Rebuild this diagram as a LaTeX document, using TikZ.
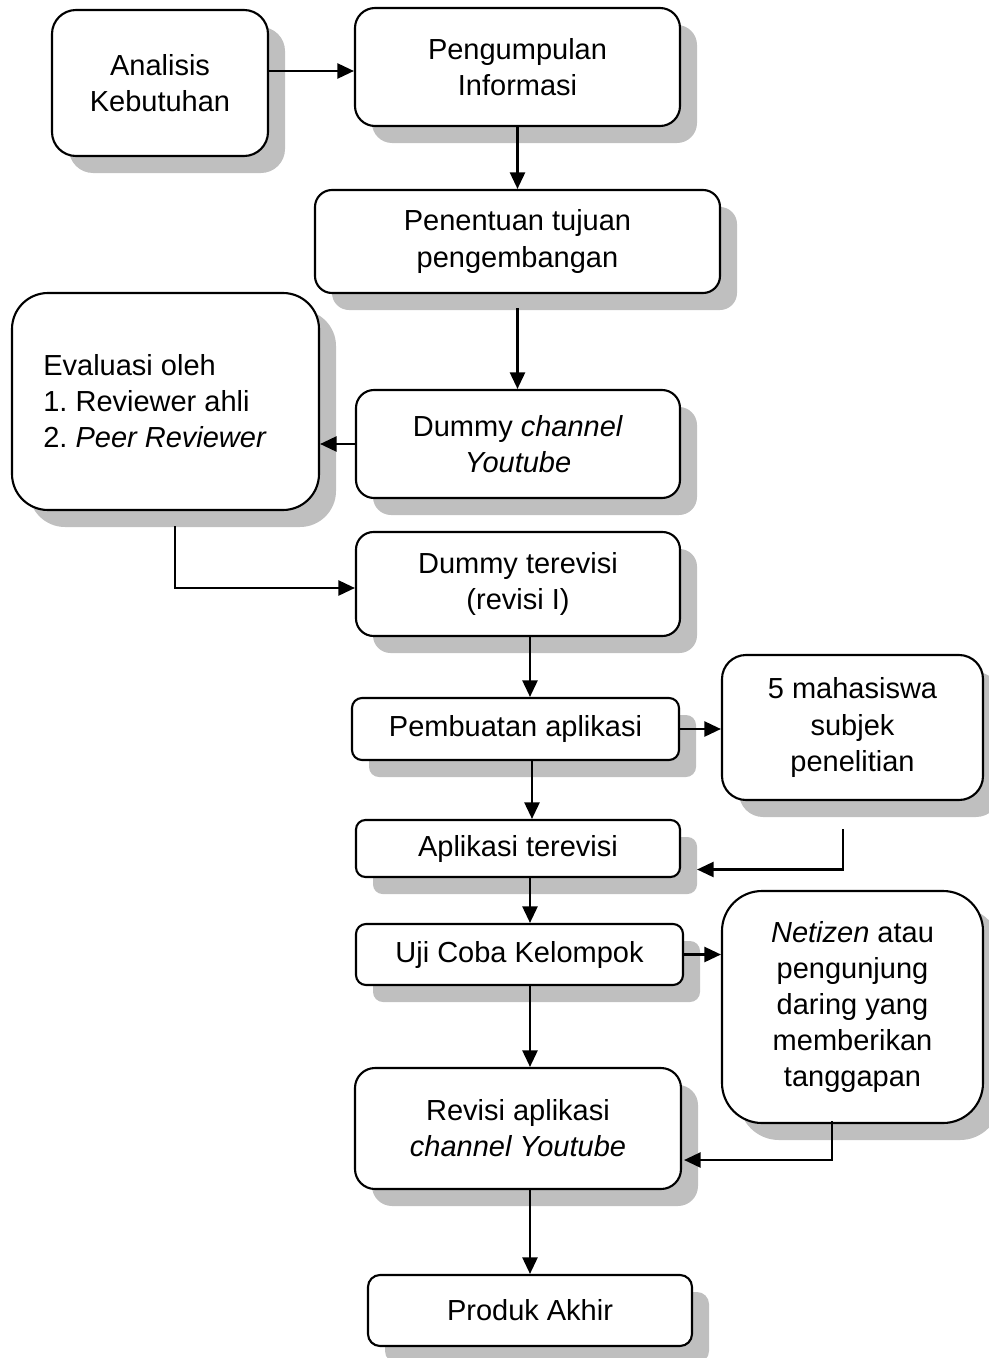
\documentclass[tikz,border=0pt]{standalone}
\usepackage{fontspec}
\setmainfont{Liberation Sans}
\frenchspacing
\usetikzlibrary{positioning}
\usetikzlibrary{arrows.meta, shadows}

\begin{document}
\begin{tikzpicture}[flowbox/.style={rectangle,
          draw,
          line width=1.2pt,
          fill=white,
          align=center,
          inner sep=0pt,
          font=\fontsize{16.5}{20.5}\selectfont,
          general shadow={shadow xshift=0.34cm, shadow yshift=-0.34cm, fill=black!25}},
   flowarrow/.style={line width=1.3pt, -{Triangle[length=0.33cm, width=0.3cm]}}]
   \useasboundingbox (0,0) rectangle (19.78,-27.16);

   \node[flowbox, minimum width=4.32cm, minimum height=2.92cm, rounded corners=0.48cm] (ana) at (3.2,-1.66) {Analisis\\Kebutuhan};
   \node[flowbox, minimum width=6.5cm, minimum height=2.36cm, rounded corners=0.4cm] (peng) at (10.35,-1.34) {Pengumpulan\\Informasi};
   \node[flowbox, minimum width=8.1cm, minimum height=2.06cm, rounded corners=0.34cm] (pen) at (10.35,-4.83) {Penentuan tujuan\\pengembangan};
   \node[flowbox, minimum width=6.14cm, minimum height=4.34cm, rounded corners=0.72cm] (eval) at (3.31,-8.03) {};
   \node[anchor=west, align=left, inner sep=0pt, font=\fontsize{16.5}{20.5}\selectfont] (evaltxt) at (0.86,-8.02) {Evaluasi oleh\\1. Reviewer ahli\\2. \textit{Peer Reviewer}};
   \node[flowbox, minimum width=6.48cm, minimum height=2.16cm, rounded corners=0.36cm] (dummy) at (10.36,-8.88) {Dummy \textit{channel}\\\textit{Youtube}};
   \node[flowbox, minimum width=6.48cm, minimum height=2.08cm, rounded corners=0.35cm] (dter) at (10.36,-11.68) {Dummy terevisi\\(revisi I)};
   \node[flowbox, minimum width=6.54cm, minimum height=1.24cm, rounded corners=0.2cm] (pemb) at (10.31,-14.58) {Pembuatan aplikasi};
   \node[flowbox, minimum width=5.22cm, minimum height=2.9cm, rounded corners=0.48cm] (mhs) at (17.05,-14.55) {5 mahasiswa\\subjek\\penelitian};
   \node[flowbox, minimum width=6.48cm, minimum height=1.14cm, rounded corners=0.19cm] (aplt) at (10.36,-16.97) {Aplikasi terevisi};
   \node[flowbox, minimum width=6.54cm, minimum height=1.22cm, rounded corners=0.2cm] (uji) at (10.39,-19.09) {Uji Coba Kelompok};
   \node[flowbox, minimum width=5.22cm, minimum height=4.64cm, rounded corners=0.8cm] (net) at (17.05,-20.14) {\textit{Netizen} atau\\pengunjung\\daring yang\\memberikan\\tanggapan};
   \node[flowbox, minimum width=6.52cm, minimum height=2.42cm, rounded corners=0.4cm] (rev) at (10.36,-22.57) {Revisi aplikasi\\\textit{channel Youtube}};
   \node[flowbox, minimum width=6.48cm, minimum height=1.42cm, rounded corners=0.24cm] (prod) at (10.6,-26.21) {Produk Akhir};

   % alur utama
   \draw[flowarrow] ([yshift=-0.08cm]ana.east |- peng.west) -- ([yshift=-0.08cm]peng.west);
   \draw[flowarrow] (peng.south) -- (peng.south |- pen.north);
   \draw[flowarrow] ([yshift=-0.28cm]pen.south) -- (pen.south |- dummy.north);
   \draw[flowarrow] (dummy.west) -- (dummy.west -| eval.east);
   \draw[flowarrow] ([xshift=0.19cm, yshift=-0.3cm]eval.south) |- ([yshift=-0.08cm]dter.west);
   \draw[flowarrow] ([xshift=0.24cm]dter.south) -- ([xshift=0.24cm]dter.south |- pemb.north);
   \draw[flowarrow] (pemb.east) -- (pemb.east -| mhs.west);
   \draw[flowarrow] ([xshift=0.33cm]pemb.south) -- ([xshift=0.33cm]pemb.south |- aplt.north);
   \draw[flowarrow] ([xshift=-0.19cm, yshift=-0.56cm]mhs.south) |- ([xshift=0.32cm, yshift=-0.42cm]aplt.east);
   \draw[flowarrow] ([xshift=0.24cm]aplt.south) -- ([xshift=0.24cm]aplt.south |- uji.north);
   \draw[flowarrow] (uji.east) -- (uji.east -| net.west);
   \draw[flowarrow] ([xshift=0.21cm]uji.south) -- ([xshift=0.21cm]uji.south |- rev.north);
   \draw[flowarrow] ([xshift=-0.41cm, yshift=0.06cm]net.south) |- ([xshift=0.04cm, yshift=-0.63cm]rev.east);
   \draw[flowarrow] (rev.south -| prod.north) -- (prod.north);
\end{tikzpicture}
\end{document}
